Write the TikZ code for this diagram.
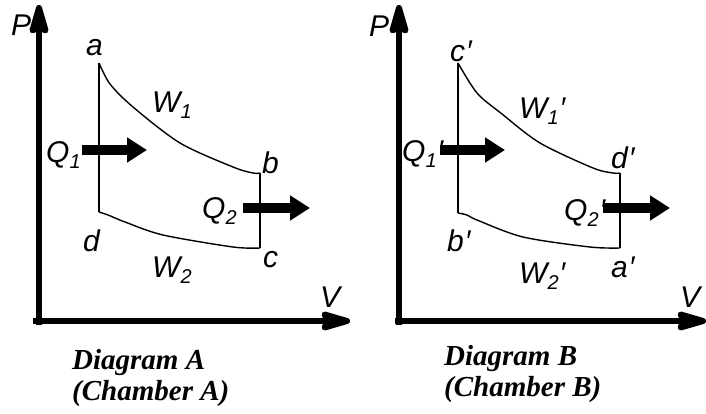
\documentclass[tikz,border=0pt]{standalone}
\usepackage{fontspec}
\setmainfont{Liberation Serif}
\newfontfamily\lblfont{Liberation Sans}
\usetikzlibrary{arrows.meta}
\newcommand{\lsub}[1]{\raisebox{-6pt}{\fontsize{20}{20}\selectfont #1}}
\newcommand{\pr}{\kern1pt′}
\begin{document}
\begin{tikzpicture}[x=1pt,y=-1pt,
  axis/.style={line width=6pt,-{Stealth[length=38pt,width=21pt,inset=4pt,round]}},
  cyc/.style={line width=1.4pt,line join=round},
  heat/.style={line width=10pt,-{Triangle[length=20pt,width=24pt]}},
  lbl/.style={anchor=base west,inner sep=0pt,font=\lblfont\itshape\fontsize{30}{30}\selectfont},
  capt/.style={anchor=base west,inner sep=0pt,font=\bfseries\itshape\fontsize{29}{31}\selectfont}]
\useasboundingbox (0,0) rectangle (706,414);
% ---------------- Diagram A ----------------
\coordinate (AO) at (39,325); \coordinate (AP) at (39,5);
\coordinate (AH0) at (33,321); \coordinate (AV) at (350,321);
\draw[axis] (AO) -- (AP);
\draw[axis] (AH0) -- (AV);
\coordinate (Aa) at (99,63); \coordinate (Ab) at (260,173);
\coordinate (Ac) at (260,248); \coordinate (Ad) at (99,212);
\draw[cyc] (Ad) -- (Aa);
\draw[cyc] (Ab) -- (Ac);
\draw[cyc] plot[smooth,tension=0.5] coordinates {(99,63) (110,84) (133,107) (180,143) (233,167) (253,173) (260,173)};
\draw[cyc] plot[smooth,tension=0.5] coordinates {(99,212) (108,215) (125,222) (163,235) (233,247) (260,248)};
\coordinate (AQ1s) at (82,150); \coordinate (AQ1e) at (147,150);
\coordinate (AQ2s) at (243,208); \coordinate (AQ2e) at (310,208);
\draw[heat] (AQ1s) -- (AQ1e);
\draw[heat] (AQ2s) -- (AQ2e);
\node[lbl] (AlP) at (11,36) {P};
\node[lbl] (Ala) at (86,56) {a};
\node[lbl] (AlW1) at (152,113) {W\lsub{1}};
\node[lbl] (AlQ1) at (46,163) {Q\lsub{1}};
\node[lbl] (Alb) at (262,174) {b};
\node[lbl] (AlQ2) at (202,218) {Q\lsub{2}};
\node[lbl] (Ald) at (83,251) {d};
\node[lbl] (Alc) at (263,267) {c};
\node[lbl] (AlW2) at (152,277) {W\lsub{2}};
\node[lbl] (AlV) at (320,307) {V};
\node[capt] (Acap1) at (72,369) {Diagram A};
\node[capt] (Acap2) at (72,400) {(Chamber A)};
% ---------------- Diagram B ----------------
\coordinate (BO) at (399,325); \coordinate (BP) at (399,5);
\coordinate (BH0) at (395,321); \coordinate (BV) at (706,321);
\draw[axis] (BO) -- (BP);
\draw[axis] (BH0) -- (BV);
\coordinate (Bc) at (458,63); \coordinate (Bd) at (620,173);
\coordinate (Ba) at (620,248); \coordinate (Bb) at (458,213);
\draw[cyc] (Bb) -- (Bc);
\draw[cyc] (Bd) -- (Ba);
\draw[cyc] plot[smooth,tension=0.5] coordinates {(458,63) (477,93) (502,114) (540,143) (593,168) (613,173) (620,173)};
\draw[cyc] plot[smooth,tension=0.5] coordinates {(458,213) (467,215) (477,220) (523,237) (590,247) (620,248)};
\coordinate (BQ1s) at (440,150); \coordinate (BQ1e) at (505,150);
\coordinate (BQ2s) at (603,208); \coordinate (BQ2e) at (670,208);
\draw[heat] (BQ1s) -- (BQ1e);
\draw[heat] (BQ2s) -- (BQ2e);
\node[lbl] (BlP) at (369,37) {P};
\node[lbl] (Blc) at (450,62) {c\pr};
\node[lbl] (BlW1) at (519,119) {W\lsub{1}\pr};
\node[lbl] (BlQ1) at (402,161) {Q\lsub{1}\pr};
\node[lbl] (Bld) at (611,168) {d\pr};
\node[lbl] (BlQ2) at (564,220) {Q\lsub{2}\pr};
\node[lbl] (Blb) at (447,251) {b\pr};
\node[lbl] (BlW2) at (519,283) {W\lsub{2}\pr};
\node[lbl] (Bla) at (611,277) {a\pr};
\node[lbl] (BlV) at (680,307) {V};
\node[capt] (Bcap1) at (444,365) {Diagram B};
\node[capt] (Bcap2) at (444,396) {(Chamber B)};
\end{tikzpicture}
\end{document}
